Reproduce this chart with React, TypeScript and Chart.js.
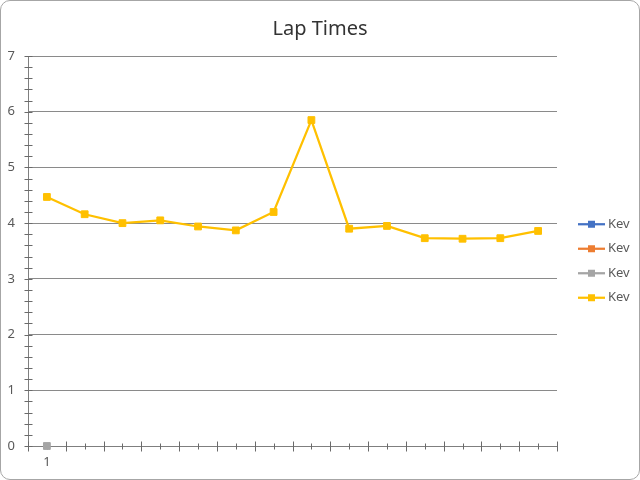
import React, { useEffect, useRef } from 'react';
import { Chart, registerables } from 'chart.js';

Chart.register(...registerables);

const chartTitle = 'Lap Times';
const categories = ['1', '', '', '', '', '', '', '', '', '', '', '', '', ''];
const seriesNames = ['Kev', 'Kev', 'Kev', 'Kev'];
const seriesColors = ['#4472C4', '#ED7D31', '#A5A5A5', '#FFC000'];
const kevBlue: (number | null)[] = [];
const kevOrange: (number | null)[] = [];
const kevGrey: (number | null)[] = [0];
const kevYellow: (number | null)[] = [4.47, 4.16, 4.0, 4.05, 3.94, 3.87, 4.2, 5.85, 3.9, 3.95, 3.73, 3.72, 3.73, 3.86];
const yMin = 0;
const yMax = 7;
const yMajorStep = 1;
const yMinorPerMajor = 5;

const FONT = "'Noto Sans', 'DejaVu Sans', sans-serif";
const TEXT = '#595959';
const AXIS = '#7f7f7f';
const GRID = '#8a8a8a';
const TICK = '#6a6a6a';

const crossTicks = {
  id: 'crossTicks',
  beforeDatasetsDraw(chart: any) {
    const { ctx, scales } = chart;
    const x = scales.x;
    const y = scales.y;
    ctx.save();
    ctx.strokeStyle = TICK;
    ctx.lineWidth = 1;
    const ax = Math.round(x.left) + 0.5;
    const n = Math.round(((yMax - yMin) / yMajorStep) * yMinorPerMajor);
    for (let k = 0; k <= n; k++) {
      const v = yMin + (k * yMajorStep) / yMinorPerMajor;
      const py = Math.round(y.getPixelForValue(v)) + 0.5;
      ctx.beginPath();
      ctx.moveTo(ax - 4, py);
      ctx.lineTo(ax + 4, py);
      ctx.stroke();
    }
    const ay = Math.round(y.getPixelForValue(yMin)) + 0.5;
    const count = categories.length;
    const step = count > 1 ? x.getPixelForValue(1) - x.getPixelForValue(0) : x.width;
    for (let i = 0; i < count; i++) {
      const c = x.getPixelForValue(i);
      const b = Math.round(c - step / 2) + 0.5;
      ctx.beginPath();
      ctx.moveTo(b, ay - 5);
      ctx.lineTo(b, ay + 5);
      ctx.stroke();
      const m = Math.round(c) + 0.5;
      ctx.beginPath();
      ctx.moveTo(m, ay - 3);
      ctx.lineTo(m, ay + 3);
      ctx.stroke();
      if (i === count - 1) {
        const e = Math.round(c + step / 2) + 0.5;
        ctx.beginPath();
        ctx.moveTo(e, ay - 5);
        ctx.lineTo(e, ay + 5);
        ctx.stroke();
      }
    }
    ctx.restore();
  },
};

const sideLegend = {
  id: 'sideLegend',
  afterDraw(chart: any) {
    const { ctx, chartArea } = chart;
    const sets = chart.data.datasets;
    const gap = 24.5;
    const midY = (chartArea.top + chartArea.bottom) / 2 + 10;
    const x0 = chartArea.right + 21;
    ctx.save();
    ctx.font = `13px ${FONT}`;
    ctx.textBaseline = 'middle';
    ctx.textAlign = 'left';
    sets.forEach((ds: any, i: number) => {
      const cy = midY + (i - (sets.length - 1) / 2) * gap;
      ctx.strokeStyle = ds.borderColor;
      ctx.lineWidth = 2.25;
      ctx.beginPath();
      ctx.moveTo(x0, cy);
      ctx.lineTo(x0 + 27, cy);
      ctx.stroke();
      ctx.fillStyle = ds.borderColor;
      ctx.fillRect(x0 + 13.5 - 3.5, cy - 3.5, 7, 7);
      ctx.fillStyle = TEXT;
      ctx.fillText(ds.label, x0 + 30, cy);
    });
    ctx.restore();
  },
};

export default function App() {
  const canvasRef = useRef<HTMLCanvasElement | null>(null);

  useEffect(() => {
    const canvas = canvasRef.current;
    if (!canvas) return;
    const seriesData = [kevBlue, kevOrange, kevGrey, kevYellow];
    const chart = new Chart(canvas, {
      type: 'line',
      data: {
        labels: categories,
        datasets: seriesData.map((d, i) => ({
          label: seriesNames[i],
          data: d,
          borderColor: seriesColors[i],
          backgroundColor: seriesColors[i],
          borderWidth: 2.25,
          pointStyle: 'rect',
          pointRadius: 4.8,
          pointBorderWidth: 1,
          pointBorderColor: seriesColors[i],
          pointBackgroundColor: seriesColors[i],
          tension: 0,
          fill: false,
          clip: false,
          order: seriesData.length - 1 - i,
        })),
      },
      options: {
        responsive: false,
        animation: false,
        devicePixelRatio: 1,
        events: [],
        layout: { padding: { left: 0, right: 0, top: 0, bottom: 0 } },
        plugins: {
          legend: { display: false },
          tooltip: { enabled: false },
          title: {
            display: true,
            text: chartTitle,
            color: '#333333',
            font: { size: 20, weight: 'normal', family: FONT, lineHeight: 1.2 },
            padding: { top: 17, bottom: 15 },
          },
        },
        scales: {
          x: {
            type: 'category',
            offset: true,
            grid: { display: true, color: 'transparent', drawTicks: false, offset: true },
            border: { display: true, color: AXIS, width: 1 },
            ticks: { color: TEXT, font: { size: 13, family: FONT }, padding: 8, autoSkip: false, maxRotation: 0 },
            afterFit: (s: any) => {
              s.height = 34;
            },
          },
          y: {
            min: yMin,
            max: yMax,
            ticks: { stepSize: yMajorStep, padding: 13, color: TEXT, font: { size: 13, family: FONT } },
            grid: { color: GRID, drawTicks: false, lineWidth: 1 },
            border: { display: true, color: AXIS, width: 1 },
            afterFit: (s: any) => {
              s.width = 28;
            },
          },
          legendSpace: {
            type: 'linear',
            position: 'right',
            display: true,
            grid: { display: false, drawTicks: false },
            border: { display: false },
            ticks: { display: false },
            afterFit: (s: any) => {
              s.width = 83;
            },
          },
        },
      },
      plugins: [crossTicks, sideLegend],
    } as any);
    return () => chart.destroy();
  }, []);

  return (
    <div
      style={{
        position: 'fixed',
        left: 0,
        top: 0,
        width: 640,
        height: 480,
        boxSizing: 'border-box',
        border: '1px solid #a6a6a6',
        borderRadius: 10,
        background: '#ffffff',
        overflow: 'hidden',
      }}
    >
      <canvas
        ref={canvasRef}
        width={640}
        height={480}
        style={{ position: 'absolute', left: -1, top: -1, width: 640, height: 480 }}
      />
    </div>
  );
}
